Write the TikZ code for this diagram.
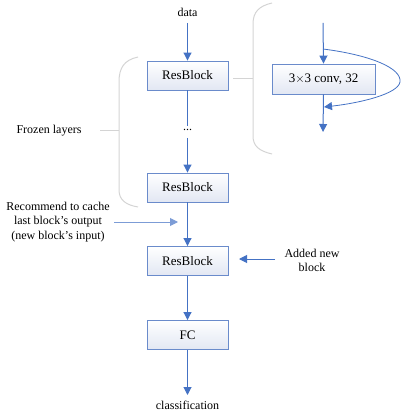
\documentclass[tikz,border=0pt]{standalone}
\usepackage{fontspec}
\setmainfont{Liberation Serif}
\usetikzlibrary{arrows.meta}
\definecolor{arrblue}{HTML}{4472C4}
\definecolor{boxblue}{HTML}{6A8BCB}
\definecolor{boxfill}{HTML}{E2E7F3}
\definecolor{bracegray}{HTML}{D4D4D4}
\tikzset{
  blk/.style={draw=boxblue, line width=0.9pt, top color=white, bottom color=boxfill,
    minimum width=81pt, minimum height=29pt, inner sep=0pt, font=\fontsize{13}{15}\selectfont},
  lbl/.style={inner sep=0pt, font=\fontsize{12}{14.5}\selectfont, align=center},
  flow/.style={draw=arrblue, line width=1pt, -{Triangle[width=8pt,length=8pt]}},
  plain/.style={draw=arrblue, line width=1pt},
  brace/.style={draw=bracegray, line width=1pt},
}
\begin{document}
\begin{tikzpicture}[x=1pt,y=-1pt]
\useasboundingbox (0,0) rectangle (402,419);
% main column
\node[lbl] (data) at (187.5,12) {data};
\node[blk] (rb1) at (187.5,75.5) {ResBlock};
\node[lbl] (dots) at (187.5,130) {...};
\node[blk] (rb2) at (187.5,187.5) {ResBlock};
\node[blk] (rb3) at (187.5,261) {ResBlock};
\node[blk] (fc) at (187.5,335) {FC};
\node[lbl] (cls) at (187.5,405) {classification};
\coordinate (datain) at (187.5,23);
\coordinate (dotstop) at (187.5,126);
\coordinate (dotsbot) at (187.5,138);
\coordinate (clstop) at (187.5,395);
\draw[flow] (datain) -- (rb1.north);
\draw[plain] (rb1.south) -- (dotstop);
\draw[flow] (dotsbot) -- (rb2.north);
\draw[flow] (rb2.south) -- (rb3.north);
\draw[flow] (rb3.south) -- (fc.north);
\draw[flow] (fc.south) -- (clstop);
% side labels
\node[lbl] (frozen) at (49,131) {Frozen layers};
\node[lbl] (rec) at (58,222) {Recommend to cache\\last block's output\\(new block's input)};
\node[lbl] (added) at (312,260.5) {Added new\\block};
\coordinate (recstart) at (114,222);
\coordinate (recend) at (178,222);
\coordinate (addstart) at (275,259);
\coordinate (addend) at (239,259);
\draw[draw=arrblue!70, line width=1pt, -{Triangle[width=8pt,length=8pt]}] (recstart) -- (recend);
\draw[flow] (addstart) -- (addend);
% left brace
\draw[brace] (138,57) .. controls (124,60) and (119,68) .. (119,82) -- (119,190)
  .. controls (119,200) and (126,205) .. (138,207);
\draw[brace] (119,131) -- (100,131);
% right brace
\draw[brace] (272,3) .. controls (259,6) and (253,12) .. (253,24) -- (253,136)
  .. controls (253,146) and (259,151) .. (272,154);
\draw[brace] (253,79) -- (233,79);
% detail
\node[blk, minimum width=103pt, minimum height=30pt] (conv) at (323.5,79) {3$\times$3 conv, 32};
\coordinate (convin) at (323,23);
\coordinate (convout) at (323,132);
\coordinate (skipstart) at (323,49);
\coordinate (skipend) at (324,107);
\draw[flow] (convin) -- (conv.north);
\draw[flow] (conv.south) -- (convout);
\draw[draw=arrblue, line width=0.8pt, -{Triangle[width=8pt,length=8pt]}] (skipstart) .. controls (370,55) and (402,68) .. (400,82)
  .. controls (398,94) and (360,103) .. (skipend);
\end{tikzpicture}
\end{document}
